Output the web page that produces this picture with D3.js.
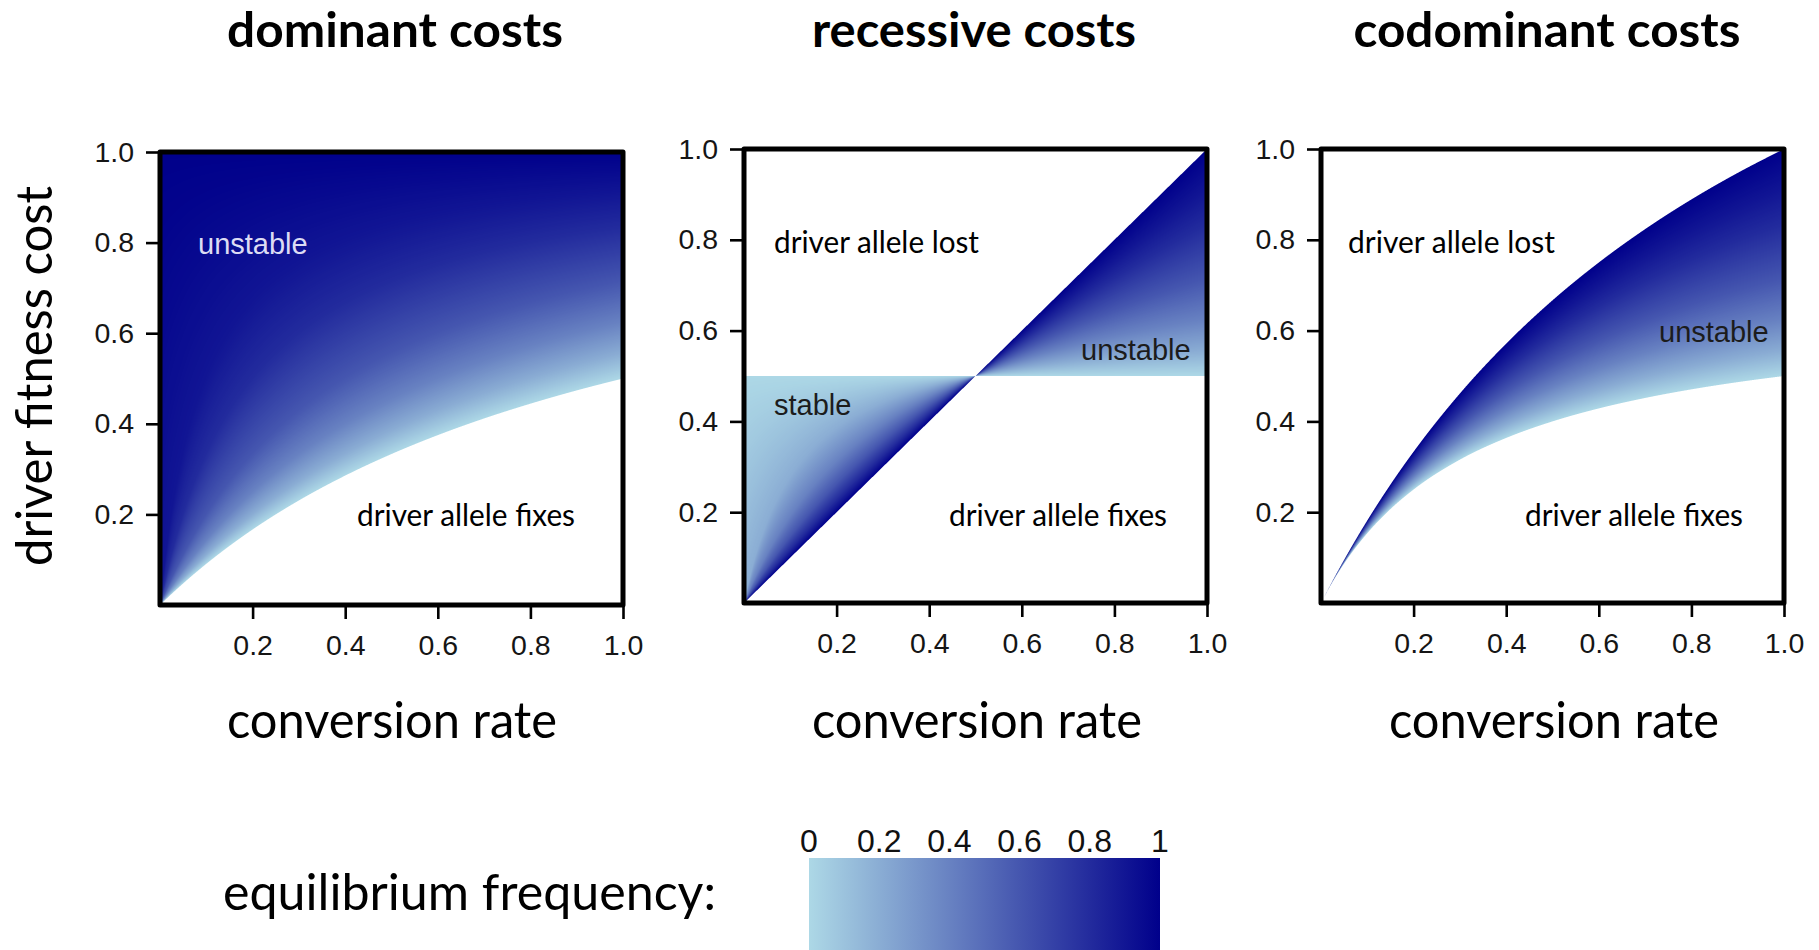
<!DOCTYPE html>
<html>
<head>
<meta charset="utf-8">
<script src="https://cdn.jsdelivr.net/npm/d3@7"></script>
<style>
  html, body { margin: 0; padding: 0; background: #ffffff; }
  svg { display: block; }
</style>
</head>
<body>
<svg id="chart" width="1819" height="950"></svg>
<script>
// ---- data -------------------------------------------------------------
// Conversion rates at which each isoline of equilibrium frequency is sampled.
const conversionRate = [0, 0.02, 0.05, 0.1, 0.15, 0.2, 0.3, 0.4, 0.5, 0.6, 0.7, 0.8, 0.9, 1];

// Equilibrium-frequency level carried by each isoline (same order as rows below).
const freqLevels = [0, 0.2, 0.4, 0.6, 0.8, 0.9, 1];

// Driver fitness cost along each isoline, one row per level, one value per conversion rate.
const dominantIsolines = [
  [0, 0.0196, 0.0476, 0.0909, 0.1304, 0.1667, 0.2308, 0.2857, 0.3333, 0.375, 0.4118, 0.4444, 0.4737, 0.5],
  [0, 0.0244, 0.0588, 0.1111, 0.1579, 0.2, 0.2727, 0.3333, 0.3846, 0.4286, 0.4667, 0.5, 0.5294, 0.5556],
  [0, 0.0323, 0.0769, 0.1429, 0.2, 0.25, 0.3333, 0.4, 0.4545, 0.5, 0.5385, 0.5714, 0.6, 0.625],
  [0, 0.0476, 0.1111, 0.2, 0.2727, 0.3333, 0.4286, 0.5, 0.5556, 0.6, 0.6364, 0.6667, 0.6923, 0.7143],
  [0, 0.0909, 0.2, 0.3333, 0.4286, 0.5, 0.6, 0.6667, 0.7143, 0.75, 0.7778, 0.8, 0.8182, 0.8333],
  [0, 0.1667, 0.3333, 0.5, 0.6, 0.6667, 0.75, 0.8, 0.8333, 0.8571, 0.875, 0.8889, 0.9, 0.9091],
  [1, 1, 1, 1, 1, 1, 1, 1, 1, 1, 1, 1, 1, 1]
];

const recessiveIsolines = [
  [0.5, 0.5, 0.5, 0.5, 0.5, 0.5, 0.5, 0.5, 0.5, 0.5, 0.5, 0.5, 0.5, 0.5],
  [0, 0.0862, 0.1786, 0.2778, 0.3409, 0.3846, 0.4412, 0.4762, 0.5, 0.5172, 0.5303, 0.5405, 0.5488, 0.5556],
  [0, 0.0472, 0.1087, 0.1923, 0.2586, 0.3125, 0.3947, 0.4545, 0.5, 0.5357, 0.5645, 0.5882, 0.6081, 0.625],
  [0, 0.0325, 0.0781, 0.1471, 0.2083, 0.2632, 0.3571, 0.4348, 0.5, 0.5556, 0.6034, 0.6452, 0.6818, 0.7143],
  [0, 0.0248, 0.0610, 0.1190, 0.1744, 0.2273, 0.3261, 0.4167, 0.5, 0.5769, 0.6481, 0.7143, 0.7759, 0.8333],
  [0, 0.0221, 0.0549, 0.1087, 0.1613, 0.2128, 0.3125, 0.4082, 0.5, 0.5882, 0.6731, 0.7547, 0.8333, 0.9091],
  [0, 0.02, 0.05, 0.1, 0.15, 0.2, 0.3, 0.4, 0.5, 0.6, 0.7, 0.8, 0.9, 1]
];

const codominantIsolines = [
  [0, 0.0377, 0.0870, 0.1538, 0.2069, 0.25, 0.3158, 0.3636, 0.4, 0.4286, 0.4516, 0.4706, 0.4865, 0.5],
  [0, 0.0380, 0.0885, 0.1587, 0.2158, 0.2632, 0.3371, 0.3922, 0.4348, 0.4688, 0.4965, 0.5195, 0.5389, 0.5556],
  [0, 0.0383, 0.0901, 0.1639, 0.2256, 0.2778, 0.3614, 0.4255, 0.4762, 0.5172, 0.5512, 0.5797, 0.6040, 0.625],
  [0, 0.0386, 0.0917, 0.1695, 0.2362, 0.2941, 0.3896, 0.4651, 0.5263, 0.5769, 0.6195, 0.6557, 0.6870, 0.7143],
  [0, 0.0389, 0.0935, 0.1754, 0.2479, 0.3125, 0.4225, 0.5128, 0.5882, 0.6522, 0.7071, 0.7547, 0.7965, 0.8333],
  [0, 0.0391, 0.0943, 0.1786, 0.2542, 0.3226, 0.4412, 0.5405, 0.625, 0.6977, 0.7609, 0.8163, 0.8654, 0.9091],
  [0, 0.0392, 0.0952, 0.1818, 0.2609, 0.3333, 0.4615, 0.5714, 0.6667, 0.75, 0.8235, 0.8889, 0.9474, 1]
];

const panelTitles = ["dominant costs", "recessive costs", "codominant costs"];
const axisTicks = [0.2, 0.4, 0.6, 0.8, 1.0];
const legendTicks = [0, 0.2, 0.4, 0.6, 0.8, 1];
const legendTickLabels = ["0", "0.2", "0.4", "0.6", "0.8", "1"];

// ---- layout ------------------------------------------------------------
const svg = d3.select("#chart");
const calibriLike = "Lato, 'Open Sans', sans-serif";
const arialLike = "'Liberation Sans', Arial, sans-serif";

const colorScale = d3.scaleLinear()
  .domain([0, 1])
  .range(["#add8e6", "#00008b"])
  .interpolate(d3.interpolateRgb);

const panels = [
  {
    title: panelTitles[0], iso: dominantIsolines,
    xr: [160, 623], yr: [605, 152], titleX: 395, titleLen: 336, xLabelX: 392,
    notes: [
      { t: "unstable", x: 198, y: 254, font: arialLike, size: 29, fill: "#dcdcf4" },
      { t: "driver allele fixes", x: 357, y: 526, font: calibriLike, size: 31, fill: "#000", len: 218 }
    ]
  },
  {
    title: panelTitles[1], iso: recessiveIsolines,
    xr: [744, 1207], yr: [603, 149], titleX: 974, titleLen: 324, xLabelX: 977,
    notes: [
      { t: "driver allele lost", x: 774, y: 253, font: calibriLike, size: 31, fill: "#000", len: 205 },
      { t: "stable", x: 774, y: 415, font: arialLike, size: 29, fill: "#1c1c1c" },
      { t: "unstable", x: 1081, y: 360, font: arialLike, size: 29, fill: "#1c1c1c" },
      { t: "driver allele fixes", x: 949, y: 526, font: calibriLike, size: 31, fill: "#000", len: 218 }
    ]
  },
  {
    title: panelTitles[2], iso: codominantIsolines,
    xr: [1321, 1784], yr: [603, 149], titleX: 1547, titleLen: 387, xLabelX: 1554,
    notes: [
      { t: "driver allele lost", x: 1348, y: 253, font: calibriLike, size: 31, fill: "#000", len: 207 },
      { t: "unstable", x: 1659, y: 342, font: arialLike, size: 29, fill: "#1c1c1c" },
      { t: "driver allele fixes", x: 1525, y: 526, font: calibriLike, size: 31, fill: "#000", len: 218 }
    ]
  }
];

// Smooth monotone curve through an isoline's samples (same slope rule as d3.curveMonotoneX).
function monotoneCurve(xs, ys) {
  const n = xs.length, h = [], d = [], m = new Array(n);
  for (let i = 0; i < n - 1; i++) { h[i] = xs[i + 1] - xs[i]; d[i] = (ys[i + 1] - ys[i]) / h[i]; }
  for (let i = 1; i < n - 1; i++) {
    const p = (d[i - 1] * h[i] + d[i] * h[i - 1]) / (h[i - 1] + h[i]);
    m[i] = (Math.sign(d[i - 1]) + Math.sign(d[i])) *
      Math.min(Math.abs(d[i - 1]), Math.abs(d[i]), 0.5 * Math.abs(p)) || 0;
  }
  m[0] = (3 * d[0] - m[1]) / 2;
  m[n - 1] = (3 * d[n - 2] - m[n - 2]) / 2;
  return c => {
    c = Math.max(xs[0], Math.min(xs[n - 1], c));
    let i = Math.min(n - 2, Math.max(0, d3.bisectRight(xs, c) - 1));
    const t = (c - xs[i]) / h[i], t2 = t * t, t3 = t2 * t;
    return (2 * t3 - 3 * t2 + 1) * ys[i] + (t3 - 2 * t2 + t) * h[i] * m[i] +
      (-2 * t3 + 3 * t2) * ys[i + 1] + (t3 - t2) * h[i] * m[i + 1];
  };
}

// Shade the equilibrium-frequency field between the isolines of one panel.
function renderField(iso, x, y) {
  const [xa, xb] = x.range();
  const [yb, ya] = y.range();
  const W = Math.round(xb - xa), H = Math.round(yb - ya);
  const canvas = document.createElement("canvas");
  canvas.width = W; canvas.height = H;
  const ctx = canvas.getContext("2d");
  const img = ctx.createImageData(W, H);
  const lines = iso.map(vals => monotoneCurve(conversionRate, vals));
  const ramp = d3.range(257).map(i => d3.rgb(colorScale(i / 256)));
  const SS = 4;
  for (let i = 0; i < W; i++) {
    const cols = [];
    for (let sx = 0; sx < SS; sx++) {
      const c = x.invert(xa + i + (sx + 0.5) / SS);
      const pts = lines.map((f, k) => [f(c), freqLevels[k]]).sort((a, b) => a[0] - b[0]);
      cols.push(pts);
    }
    for (let j = 0; j < H; j++) {
      let r = 0, g = 0, b = 0, n = 0;
      for (let sx = 0; sx < SS; sx++) {
        const pts = cols[sx];
        const lo = pts[0][0], hi = pts[pts.length - 1][0];
        for (let sy = 0; sy < SS; sy++) {
          const s = y.invert(ya + j + (sy + 0.5) / SS);
          if (s < lo || s > hi || hi - lo < 1e-9) continue;
          let k = 0;
          while (k < pts.length - 2 && s > pts[k + 1][0]) k++;
          const d = pts[k + 1][0] - pts[k][0];
          const p = d > 1e-12 ? pts[k][1] + (pts[k + 1][1] - pts[k][1]) * (s - pts[k][0]) / d : pts[k + 1][1];
          const col = ramp[Math.max(0, Math.min(256, Math.round(p * 256)))];
          r += col.r; g += col.g; b += col.b; n++;
        }
      }
      if (n > 0) {
        const o = (j * W + i) * 4;
        img.data[o] = r / n; img.data[o + 1] = g / n; img.data[o + 2] = b / n;
        img.data[o + 3] = 255 * n / (SS * SS);
      }
    }
  }
  ctx.putImageData(img, 0, 0);
  return { href: canvas.toDataURL(), x: xa, y: ya, w: W, h: H };
}

panels.forEach(pn => {
  const x = d3.scaleLinear().domain([0, 1]).range(pn.xr);
  const y = d3.scaleLinear().domain([0, 1]).range(pn.yr);
  const g = svg.append("g");

  const field = renderField(pn.iso, x, y);
  g.append("image")
    .attr("x", field.x).attr("y", field.y)
    .attr("width", field.w).attr("height", field.h)
    .attr("preserveAspectRatio", "none")
    .attr("href", field.href);

  // axes
  const xAxis = d3.axisBottom(x).tickValues(axisTicks).tickSize(14).tickPadding(16)
    .tickFormat(d3.format(".1f"));
  const yAxis = d3.axisLeft(y).tickValues(axisTicks).tickSize(14).tickPadding(12)
    .tickFormat(d3.format(".1f"));
  const gx = g.append("g").attr("transform", `translate(0,${pn.yr[0]})`).call(xAxis);
  const gy = g.append("g").attr("transform", `translate(${pn.xr[0]},0)`).call(yAxis);
  [gx, gy].forEach(ax => {
    ax.select(".domain").remove();
    ax.selectAll(".tick line").attr("stroke", "#000").attr("stroke-width", 2.6);
    ax.selectAll(".tick text")
      .attr("font-family", arialLike).attr("font-size", 28.5).attr("fill", "#151515");
  });

  // plot frame
  g.append("rect")
    .attr("x", pn.xr[0]).attr("y", pn.yr[1])
    .attr("width", pn.xr[1] - pn.xr[0]).attr("height", pn.yr[0] - pn.yr[1])
    .attr("fill", "none").attr("stroke", "#000").attr("stroke-width", 5)
    .attr("stroke-linejoin", "round");

  // region notes
  pn.notes.forEach(nt => {
    const t = g.append("text")
      .attr("x", nt.x).attr("y", nt.y)
      .attr("font-family", nt.font).attr("font-size", nt.size)
      .attr("fill", nt.fill).text(nt.t);
    if (nt.len) t.attr("textLength", nt.len).attr("lengthAdjust", "spacingAndGlyphs");
  });

  // panel title
  svg.append("text")
    .attr("x", pn.titleX).attr("y", 47)
    .attr("text-anchor", "middle")
    .attr("font-family", calibriLike).attr("font-weight", 700).attr("font-size", 47)
    .attr("textLength", pn.titleLen).attr("lengthAdjust", "spacingAndGlyphs")
    .text(pn.title);

  // x axis title
  svg.append("text")
    .attr("x", pn.xLabelX).attr("y", 738)
    .attr("text-anchor", "middle")
    .attr("font-family", calibriLike).attr("font-size", 50)
    .attr("textLength", 330).attr("lengthAdjust", "spacingAndGlyphs")
    .text("conversion rate");
});

// y axis title
svg.append("text")
  .attr("transform", "translate(52,376) rotate(-90)")
  .attr("text-anchor", "middle")
  .attr("font-family", calibriLike).attr("font-size", 50)
  .attr("textLength", 380).attr("lengthAdjust", "spacingAndGlyphs")
  .text("driver fitness cost");

// ---- colour legend ----------------------------------------------------
svg.append("text")
  .attr("x", 223).attr("y", 910)
  .attr("font-family", calibriLike).attr("font-size", 50)
  .attr("textLength", 493).attr("lengthAdjust", "spacingAndGlyphs")
  .text("equilibrium frequency:");

const legX = d3.scaleLinear().domain([0, 1]).range([809, 1160]);
const grad = svg.append("defs").append("linearGradient")
  .attr("id", "freqRamp").attr("x1", "0%").attr("x2", "100%").attr("y1", "0%").attr("y2", "0%");
grad.selectAll("stop").data(legendTicks).join("stop")
  .attr("offset", d => `${d * 100}%`)
  .attr("stop-color", d => colorScale(d));

svg.append("rect")
  .attr("x", legX(0)).attr("y", 858)
  .attr("width", legX(1) - legX(0)).attr("height", 92)
  .attr("fill", "url(#freqRamp)");

svg.append("g").selectAll("text").data(legendTicks).join("text")
  .attr("x", d => legX(d)).attr("y", 852)
  .attr("text-anchor", "middle")
  .attr("font-family", "'Liberation Sans Narrow', 'Liberation Sans', Arial, sans-serif")
  .attr("font-size", 32).attr("fill", "#111")
  .text((d, i) => legendTickLabels[i]);
</script>
</body>
</html>
